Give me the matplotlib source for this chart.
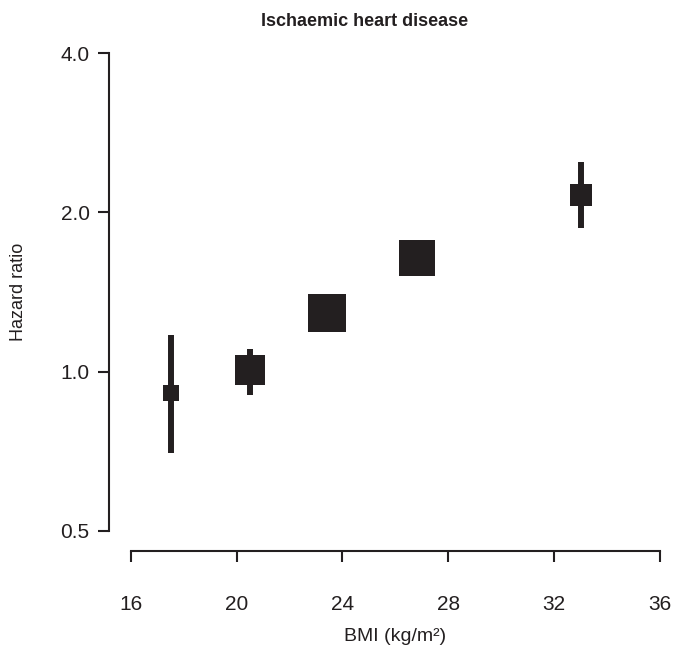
import matplotlib
matplotlib.use("Agg")
import matplotlib.pyplot as plt
from matplotlib.ticker import FixedLocator, FixedFormatter, NullLocator
import numpy as np

# Data
bmi = [17.51, 20.51, 23.42, 26.80, 33.01]
hr = [0.911, 1.009, 1.288, 1.637, 2.158]
ci_low = [0.701, 0.903, 1.23, 1.57, 1.870]
ci_high = [1.173, 1.103, 1.35, 1.71, 2.492]
box_size_pt = [11.5, 21.6, 27.4, 26.6, 15.8]

x_ticks = [16, 20, 24, 28, 32, 36]
y_ticks = [0.5, 1.0, 2.0, 4.0]
y_tick_labels = ["0.5", "1.0", "2.0", "4.0"]

ink = "#231f20"
plt.rcParams['font.family'] = ['Liberation Sans', 'DejaVu Sans']

fig = plt.figure(figsize=(6.73, 6.48), dpi=100)
ax = fig.add_axes([130.7/673, 117.3/648, (660-130.7)/673, (530.7-53.3)/648])
ax.set_yscale('log')
ax.set_xlim(16, 36)
ax.set_ylim(0.5, 4.0)

for x, y, lo, hi, s in zip(bmi, hr, ci_low, ci_high, box_size_pt):
    ax.plot([x, x], [lo, hi], color=ink, lw=4.3, solid_capstyle='butt', zorder=2)
    ax.plot([x], [y], marker='s', markersize=s, color=ink, markeredgewidth=0, zorder=3)

ax.yaxis.set_major_locator(FixedLocator(y_ticks))
ax.yaxis.set_major_formatter(FixedFormatter(y_tick_labels))
ax.yaxis.set_minor_locator(NullLocator())
ax.set_xticks(x_ticks)
ax.set_xticklabels([str(t) for t in x_ticks])

for side in ['top', 'right']:
    ax.spines[side].set_visible(False)
ax.spines['left'].set_position(('outward', 15.6))
ax.spines['bottom'].set_position(('outward', 14.4))
for side in ['left', 'bottom']:
    ax.spines[side].set_linewidth(1.5)
    ax.spines[side].set_color(ink)
ax.tick_params(axis='both', direction='out', length=8, width=1.5, color=ink, labelcolor=ink, labelsize=15)
ax.tick_params(axis='y', pad=6)
ax.tick_params(axis='x', pad=24)

ax.set_xlabel("BMI (kg/m²)", fontsize=14, color=ink, labelpad=10)
ax.set_ylabel("Hazard ratio", fontsize=13, color=ink, labelpad=24)
fig.text(365/673, 1 - 22/648, "Ischaemic heart disease", ha='center', va='center',
         fontsize=13, fontweight='bold', color=ink,
         family=['Liberation Sans Narrow', 'Liberation Sans', 'DejaVu Sans'])

fig.savefig("out.png", dpi=100)
